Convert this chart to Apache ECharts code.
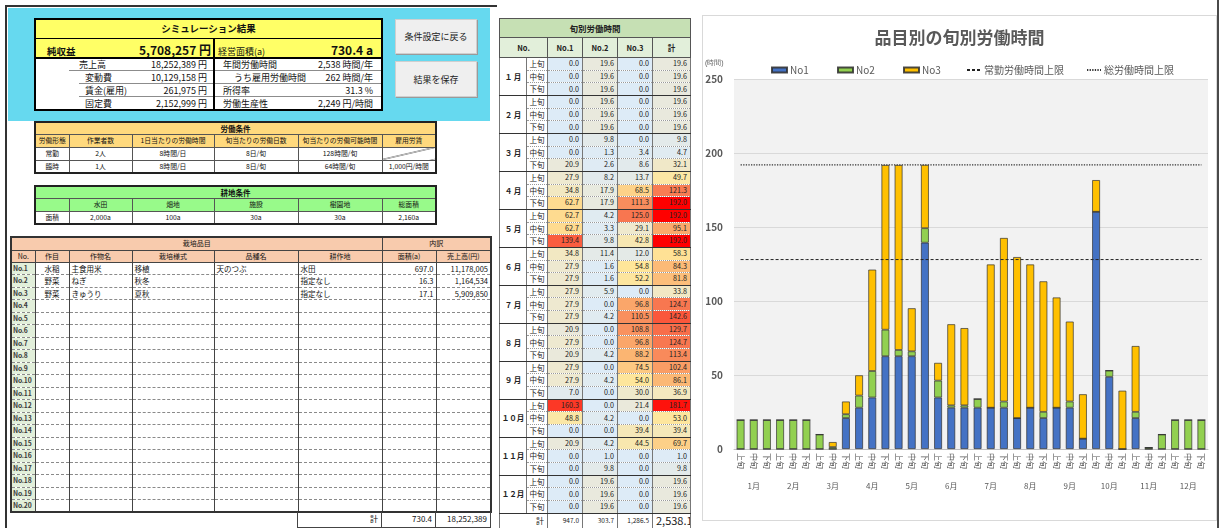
<!DOCTYPE html>
<html lang="ja"><head><meta charset="utf-8">
<script src="https://cdn.jsdelivr.net/npm/echarts@6/dist/echarts.min.js"></script>
<style>
html,body{margin:0;padding:0}
body{width:1221px;height:528px;overflow:hidden;background:#fff;position:relative;font-family:"Noto Sans CJK JP","Noto Sans",sans-serif;color:#111}
.abs{position:absolute;box-sizing:border-box}
table{position:absolute;border-collapse:collapse;table-layout:fixed}
td{padding:0;overflow:hidden;white-space:nowrap;line-height:1}
#panel{left:5px;top:5px;width:492px;height:540px;border-left:2px solid #333;border-top:2px solid #333}
#cyan{left:8px;top:8px;width:482px;height:113px;background:#66d9ef}
#yt{left:34px;top:18px;width:347px;border:2px solid #000}
#yt td{background:#ffff66}
#yt tr.w td{background:#fff;font-size:9px}
.lv{display:flex;justify-content:space-between;align-items:center;height:12px;box-sizing:border-box}
.btn{background:#efefef;border:1px solid #cfcfcf;box-shadow:1px 1px 0 #9a9a9a;font-size:9px;display:flex;align-items:center;justify-content:center;color:#222}
.gt{border:2px solid #222}
.gt td{border:1px solid #555;font-size:6.8px;text-align:center;background:#fff}
#lab td.h{background:#ffd97d}
#land td.h{background:#98fa8a}
.gt td.t{font-weight:bold;font-size:7.5px}
#ct{left:10px;top:236px;width:480px;border:2px solid #333}
#ct td{border-left:1px solid #444;border-right:1px solid #444;border-bottom:1px dashed #8a8a8a;font-size:7.5px;padding:0 2px}
#ct tr.hd td{background:#f8cbad;border:1px solid #444;text-align:center;font-size:7px}
#ct tr.last td{border-bottom:1px solid #333}
#ct td.no{background:#e2efda;font-weight:bold;color:#3a3a3a;font-size:6.8px;padding:0 0 0 1px;letter-spacing:-0.2px}
#ctt{left:297px;top:512px;width:193px}
#ctt td{border:1px solid #444;border-top:none;font-size:8px;text-align:right;padding:0 3px}
#mt{left:499px;top:18px;width:191px;border:1px solid #444}
#mt td{border-left:1px solid #777;border-right:1px solid #777;border-bottom:1px dotted #999;font-size:7.2px;text-align:right;padding:0 3px;color:#222}
#mt tr.last td{border-bottom:1px solid #333}
#mt td.mo{border-bottom:1px solid #333;text-align:center;font-size:7.5px;font-weight:bold;background:#fff;padding:0}
#mt td.sb{text-align:center;font-size:7.5px;background:#fff;padding:0}
#mt tr.ttl td{background:#c6e0b4;text-align:center;font-size:8.5px;font-weight:bold;border:1px solid #555}
#mt tr.ch td{background:#e2efda;text-align:center;font-size:7.5px;font-weight:bold;border:1px solid #555}
#mt tr.tot td{border-bottom:1px solid #444;background:#fff;font-size:6.5px}
#chartbox{left:702px;top:15px;width:515px;height:506px;border:1px solid #d9d9d9;background:#fff}
#chart{width:513px;height:504px}
#edge{left:1217px;top:0;width:2px;height:528px;background:#4a4a4a}
</style></head>
<body>
<div id="panel" class="abs"></div>
<div id="cyan" class="abs"></div>
<div id="left"></div>
<div id="mid"></div>
<div id="chartbox" class="abs"><div id="chart"></div></div>
<div id="edge" class="abs"></div>
<script>
// ---------------- DATA ----------------
const months = ['1月','2月','3月','4月','5月','6月','7月','8月','9月','10月','11月','12月'];
const monthsTable = ['１ 月','２ 月','３ 月','４ 月','５ 月','６ 月','７ 月','８ 月','９ 月','１０月','１１月','１２月'];
const subLabels = ['上旬','中旬','下旬'];
const no1 = [0.0,0.0,0.0, 0.0,0.0,0.0, 0.0,0.0,20.9, 27.9,34.8,62.7, 62.7,62.7,139.4, 34.8,27.9,27.9, 27.9,27.9,27.9, 20.9,27.9,20.9, 27.9,27.9,7.0, 160.3,48.8,0.0, 20.9,0.0,0.0, 0.0,0.0,0.0];
const no2 = [19.6,19.6,19.6, 19.6,19.6,19.6, 9.8,1.3,2.6, 8.2,17.9,17.9, 4.2,3.3,9.8, 11.4,1.6,1.6, 5.9,0.0,4.2, 0.0,0.0,4.2, 0.0,4.2,0.0, 0.0,4.2,0.0, 4.2,1.0,9.8, 19.6,19.6,19.6];
const no3 = [0.0,0.0,0.0, 0.0,0.0,0.0, 0.0,3.4,8.6, 13.7,68.5,111.3, 125.0,29.1,42.8, 12.0,54.8,52.2, 0.0,96.8,110.5, 108.8,96.8,88.2, 74.5,54.0,30.0, 21.4,0.0,39.4, 44.5,0.0,0.0, 0.0,0.0,0.0];
const totals = [19.6,19.6,19.6, 19.6,19.6,19.6, 9.8,4.7,32.1, 49.7,121.3,192.0, 192.0,95.1,192.0, 58.3,84.3,81.8, 33.8,124.7,142.6, 129.7,124.7,113.4, 102.4,86.1,36.9, 181.7,53.0,39.4, 69.7,1.0,9.8, 19.6,19.6,19.6];
const regularLimit = [128,128,128,128,128,128,128,128,128,128,128,128,128,128,128,128,128,128,128,128,128,128,128,128,128,128,128,128,128,128,128,128,128,128,128,128];
const totalLimit = [192,192,192,192,192,192,192,192,192,192,192,192,192,192,192,192,192,192,192,192,192,192,192,192,192,192,192,192,192,192,192,192,192,192,192,192];
const colTotals = ['947.0','303.7','1,286.5','2,538.1'];
const yTicks = [0,50,100,150,200,250];

const summaryTitle = 'シミュレーション結果';
const netIncome = ['純収益','5,708,257 円'];
const area = ['経営面積(a)','730.4 a'];
const summaryLeft = [['売上高','18,252,389 円'],['変動費','10,129,158 円'],['賃金(雇用)','261,975 円'],['固定費','2,152,999 円']];
const summaryRight = [['年間労働時間','2,538 時間/年'],['うち雇用労働時間','262 時間/年'],['所得率','31.3 %'],['労働生産性','2,249 円/時間']];
const buttons = ['条件設定に戻る','結果を保存'];
const laborHead = ['労働形態','作業者数','1日当たりの労働時間','旬当たりの労働日数','旬当たりの労働可能時間','雇用労賃'];
const laborRows = [['常勤','2人','8時間/日','8日/旬','128時間/旬',''],['臨時','1人','8時間/日','8日/旬','64時間/旬','1,000円/時間']];
const landHead = ['','水田','畑地','施設','樹園地','総面積'];
const landRow = ['面積','2,000a','100a','30a','30a','2,160a'];
const cropHead = ['No.','作目','作物名','栽培様式','品種名','耕作地','面積(a)','売上高(円)'];
const cropRows = [['水稲','主食用米','移植','天のつぶ','水田','697.0','11,178,005'],['野菜','ねぎ','秋冬','','指定なし','16.3','1,164,534'],['野菜','きゅうり','夏秋','','指定なし','17.1','5,909,850']];
const cropTotal = ['計','730.4','18,252,389'];

// ---------------- LEFT PANEL ----------------
function lv(label, value, ml, pl, pr, ul, extra){
  return `<div class="lv" style="margin-left:${ml}px;padding-left:${pl}px;padding-right:${pr}px;${ul?'border-bottom:1px solid #8c8c8c;':''}${extra||''}"><span>${label}</span><span>${value}</span></div>`;
}
let L = '';
L += `<table id="yt"><colgroup><col style="width:179px"><col style="width:168px"></colgroup>`;
L += `<tr style="height:19px"><td colspan="2" style="text-align:center;font-weight:bold;font-size:9.5px;border-bottom:1px solid #000">${summaryTitle}</td></tr>`;
L += `<tr style="height:20px"><td style="border-right:2px solid #000;border-bottom:2px solid #000">${lv('<b style="font-size:9.5px">'+netIncome[0]+'</b>','<b style="font-size:12px">'+netIncome[1]+'</b>',0,11,2,false,'height:18px')}</td>`;
L += `<td style="border-bottom:2px solid #000">${lv('<span style="font-size:9px">'+area[0]+'</span>','<b style="font-size:12px">'+area[1]+'</b>',0,3,8,false,'height:18px')}</td></tr>`;
for(let i=0;i<4;i++){
  const last = i===3;
  const ml = i===0?33:43, pl = i===0?10:6;
  L += `<tr class="w" style="height:13px"><td style="border-right:2px solid #000">${lv(summaryLeft[i][0],summaryLeft[i][1],ml,pl,6,!last)}</td>`;
  L += `<td>${lv(summaryRight[i][0],summaryRight[i][1],0,i===1?19:8,8,!last)}</td></tr>`;
}
L += `</table>`;
L += `<div class="abs btn" style="left:395px;top:19px;width:82px;height:35px">${buttons[0]}</div>`;
L += `<div class="abs btn" style="left:395px;top:61px;width:82px;height:36px">${buttons[1]}</div>`;

const gcols = [34,63,82,84,84,54];
function cg(ws){return '<colgroup>'+ws.map(w=>`<col style="width:${w}px">`).join('')+'</colgroup>';}
L += `<table id="lab" class="gt" style="left:34px;top:121px;width:401px">${cg(gcols)}`;
L += `<tr style="height:12px"><td colspan="6" class="h t">労働条件</td></tr>`;
L += `<tr style="height:13px">${laborHead.map(t=>`<td class="h">${t}</td>`).join('')}</tr>`;
laborRows.forEach((r,ri)=>{
  L += `<tr style="height:13px">${r.map((t,ci)=>{
    if(ri===0 && ci===5) return `<td style="background:linear-gradient(to top left, #fff calc(50% - 0.7px), #333 50%, #fff calc(50% + 0.7px))"></td>`;
    return `<td>${t}</td>`;}).join('')}</tr>`;
});
L += `</table>`;
L += `<table id="land" class="gt" style="left:34px;top:185px;width:401px">${cg(gcols)}`;
L += `<tr style="height:12px"><td colspan="6" class="h t">耕地条件</td></tr>`;
L += `<tr style="height:13px">${landHead.map(t=>`<td class="h">${t}</td>`).join('')}</tr>`;
L += `<tr style="height:13px">${landRow.map(t=>`<td>${t}</td>`).join('')}</tr>`;
L += `</table>`;

L += `<table id="ct">${cg([24,34,63,82,84,84,54,55])}`;
L += `<tr class="hd" style="height:13px"><td colspan="6">栽培品目</td><td colspan="2">内訳</td></tr>`;
L += `<tr class="hd" style="height:12px">${cropHead.map(t=>`<td>${t}</td>`).join('')}</tr>`;
for(let i=0;i<20;i++){
  const r = cropRows[i] || ['','','','','','',''];
  L += `<tr class="${i===19?'last':''}" style="height:12.5px"><td class="no">No.${i+1}</td>`;
  L += `<td style="text-align:center">${r[0]}</td><td>${r[1]}</td><td>${r[2]}</td><td>${r[3]}</td><td>${r[4]}</td><td style="text-align:right">${r[5]}</td><td style="text-align:right">${r[6]}</td></tr>`;
}
L += `</table>`;
L += `<table id="ctt">${cg([84,54,55])}<tr style="height:15px"><td>${cropTotal[0]}</td><td>${cropTotal[1]}</td><td>${cropTotal[2]}</td></tr></table>`;
document.getElementById('left').innerHTML = L;

// ---------------- MIDDLE TABLE ----------------
const heatStops = [[0,[221,235,247]],[25,[236,233,214]],[55,[255,230,153]],[90,[251,178,112]],[125,[248,118,80]],[192,[255,0,0]]];
function heat(v){
  for(let k=1;k<heatStops.length;k++){
    if(v<=heatStops[k][0]){
      const a=heatStops[k-1], b=heatStops[k], t=(v-a[0])/(b[0]-a[0]);
      const c=a[1].map((x,j)=>Math.round(x+(b[1][j]-x)*t));
      return `rgb(${c[0]},${c[1]},${c[2]})`;
    }
  }
  return 'rgb(255,0,0)';
}
const fmt = v => v.toFixed(1);
let M = `<table id="mt">${cg([27,21,35,35,35,38])}`;
M += `<tr class="ttl" style="height:19px"><td colspan="6">旬別労働時間</td></tr>`;
M += `<tr class="ch" style="height:20px"><td colspan="2">No.</td><td>No.1</td><td>No.2</td><td>No.3</td><td>計</td></tr>`;
for(let m=0;m<12;m++){
  for(let s=0;s<3;s++){
    const i=m*3+s;
    M += `<tr class="${s===2?'last':''}" style="height:12.67px">`;
    if(s===0) M += `<td rowspan="3" class="mo">${monthsTable[m]}</td>`;
    M += `<td class="sb">${subLabels[s]}</td>`;
    [no1[i],no2[i],no3[i],totals[i]].forEach(v=>{ M += `<td style="background:${heat(v)}">${fmt(v)}</td>`; });
    M += `</tr>`;
  }
}
M += `<tr class="tot" style="height:15px"><td colspan="2" style="text-align:right;font-size:8px">計</td><td>${colTotals[0]}</td><td>${colTotals[1]}</td><td>${colTotals[2]}</td><td style="font-size:11px">${colTotals[3]}</td></tr>`;
M += `</table>`;
document.getElementById('mid').innerHTML = M;

// ---------------- CHART ----------------
const xLabels = [];
months.forEach(()=>subLabels.forEach(s=>xLabels.push(s)));
const gray = '#595959';
const chart = echarts.init(document.getElementById('chart'));
const barStyle = c => ({color:c,borderColor:'rgba(45,45,45,0.85)',borderWidth:0.8});
const lg = (name,left,iw,icon,isLine) => {
  const o = {data:[name],left:left,top:49,padding:0,itemWidth:iw,itemHeight:5,itemGap:3,textStyle:{fontSize:10,color:gray,padding:[0,0,0,-2]}};
  if(icon) o.icon = icon;
  if(isLine) o.itemStyle = {color:'transparent',borderColor:'transparent',borderWidth:0};
  return o;
};
chart.setOption({
  animation:false,
  textStyle:{fontFamily:'"Noto Sans CJK JP","Noto Sans",sans-serif'},
  title:{text:'品目別の旬別労働時間',left:'center',top:8,textStyle:{fontSize:17,fontWeight:'bold',color:gray}},
  legend:[lg('No1',68,15,'rect'),lg('No2',134,15,'rect'),lg('No3',200,15,'rect'),lg('常勤労働時間上限',263,14,null,true),lg('総労働時間上限',383,14,null,true)],
  graphic:[{type:'text',left:2,top:44,style:{text:'(時間)',fontSize:7,fill:gray}}],
  grid:{left:31,top:63,width:474,height:370,show:true,backgroundColor:'#f2f2f2',borderWidth:0,containLabel:false,outerBoundsMode:'none'},
  xAxis:[
    {type:'category',data:xLabels,position:'bottom',axisLine:{lineStyle:{color:'#bfbfbf'}},axisTick:{length:22,lineStyle:{color:'#c8c8c8'}},axisLabel:{interval:0,rotate:-90,fontSize:8,color:gray,margin:4}},
    {type:'category',data:months,position:'bottom',axisLine:{show:false},axisTick:{length:44,lineStyle:{color:'#c8c8c8'}},axisLabel:{interval:0,fontSize:8,color:gray,margin:33}}
  ],
  yAxis:{type:'value',min:yTicks[0],max:yTicks[yTicks.length-1],interval:50,axisLine:{show:false},axisTick:{show:false},axisLabel:{fontSize:10,fontWeight:'bold',color:gray,margin:11},splitLine:{lineStyle:{color:'#d9d9d9'}}},
  series:[
    {name:'No1',type:'bar',stack:'t',data:no1,barWidth:'60%',itemStyle:barStyle('#4472c4')},
    {name:'No2',type:'bar',stack:'t',data:no2,barWidth:'60%',itemStyle:barStyle('#92d050')},
    {name:'No3',type:'bar',stack:'t',data:no3,barWidth:'60%',itemStyle:barStyle('#ffc000')},
    {name:'常勤労働時間上限',type:'line',data:regularLimit,symbol:'none',lineStyle:{color:'#222',width:1,type:[3,2]},z:5},
    {name:'総労働時間上限',type:'line',data:totalLimit,symbol:'none',lineStyle:{color:'#333',width:1.3,type:[1.3,1.3]},z:5}
  ]
});
</script>
</body></html>
